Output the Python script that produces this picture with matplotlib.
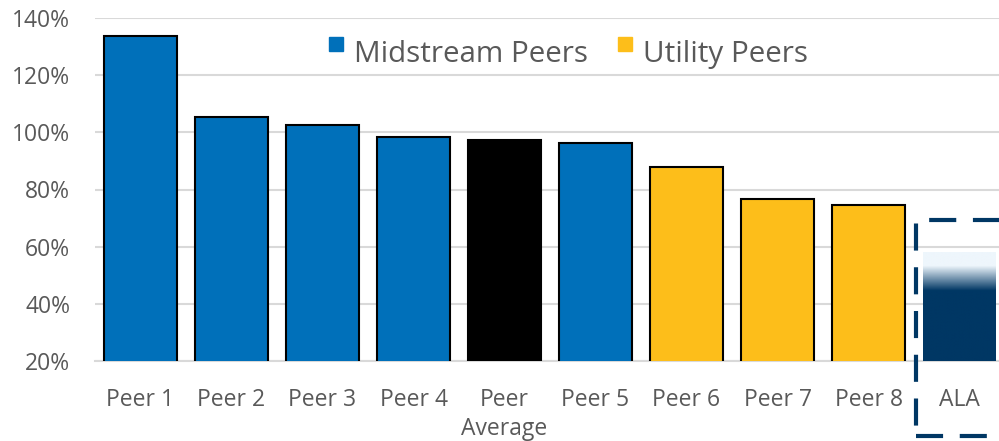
import numpy as np
import matplotlib
matplotlib.use("Agg")
import matplotlib.pyplot as plt
from matplotlib.patches import Rectangle
from matplotlib.colors import LinearSegmentedColormap

plt.rcParams['font.family'] = ['Open Sans', 'DejaVu Sans']

categories = ["Peer 1", "Peer 2", "Peer 3", "Peer 4", "Peer\nAverage",
              "Peer 5", "Peer 6", "Peer 7", "Peer 8", "ALA"]
peer_values = [133.8, 105.3, 102.6, 98.2, 97.2, 96.1, 87.8, 76.7, 74.6]
peer_groups = ["mid", "mid", "mid", "mid", "avg", "mid", "util", "util", "util"]
ala_low = 44.5     # top of solid part of ALA range
ala_high = 57.9    # top of faded part of ALA range
yticks = [20, 40, 60, 80, 100, 120, 140]
legend_labels = ["Midstream Peers", "Utility Peers"]

BLUE = "#0070BA"
YELLOW = "#FDBE1A"
NAVY = "#003764"
GRID = "#D9D9D9"
TXT = "#595959"
colors = {"mid": BLUE, "util": YELLOW, "avg": "#000000"}

W, H = 999, 441
fig = plt.figure(figsize=(W / 100, H / 100), dpi=100)
ax = fig.add_axes([95 / W, 80 / H, 910 / W, 343 / H])

x = np.arange(len(categories))
ax.bar(x[:len(peer_values)], peer_values, width=0.8, bottom=0,
       color=[colors[g] for g in peer_groups], edgecolor="black",
       linewidth=1.5, zorder=3)

# ALA gradient bar
ys = np.linspace(20, ala_high, 400)
vals = np.clip((ys - ala_low) / ((ala_high - ala_low) * 0.65), 0, 1)
ax.imshow(vals[:, None], cmap=LinearSegmentedColormap.from_list("a", [NAVY, "#EEF6FC"]),
          extent=[x[-1] - 0.4, x[-1] + 0.4, 20, ala_high], origin="lower",
          aspect="auto", zorder=3, interpolation="bilinear")

ax.set_xlim(-0.5, len(categories) - 0.5)
ax.set_ylim(20, 140)
ax.set_yticks(yticks)
ax.set_yticklabels([f"{v}%" for v in yticks])
ax.set_xticks(x)
ax.set_xticklabels(categories)
ax.yaxis.grid(True, color=GRID, linewidth=1.5, zorder=0)
ax.set_axisbelow(True)
for s in ["top", "right", "left"]:
    ax.spines[s].set_visible(False)
ax.spines["bottom"].set_color(GRID)
ax.spines["bottom"].set_linewidth(1.5)
ax.tick_params(axis="both", length=0, labelsize=16.5, colors=TXT)
ax.tick_params(axis="y", pad=18)
ax.tick_params(axis="x", pad=19.5)
for lab in ax.get_xticklabels():
    lab.set_verticalalignment("top")
    lab.set_linespacing(1.3)

# Dashed highlight box around ALA
box = Rectangle((8.52, -6.3), 1.6, 69.5 + 6.3, fill=False, edgecolor=NAVY,
                linewidth=3, linestyle=(0, (6.5, 4)), clip_on=False, zorder=4)
ax.add_patch(box)

# Legend (raised square markers as in reference)
leg_x = [329, 618]
leg_colors = [BLUE, YELLOW]
for lx, lc, lt in zip(leg_x, leg_colors, legend_labels):
    fig.patches.append(Rectangle((lx / W, 1 - 51 / H), 14 / W, 14 / H,
                                 transform=fig.transFigure, color=lc, figure=fig))
    fig.text((lx + 25) / W, 1 - 62 / H, lt, fontsize=21.3, color=TXT,
             ha="left", va="baseline")

fig.savefig("out.png", dpi=100)
